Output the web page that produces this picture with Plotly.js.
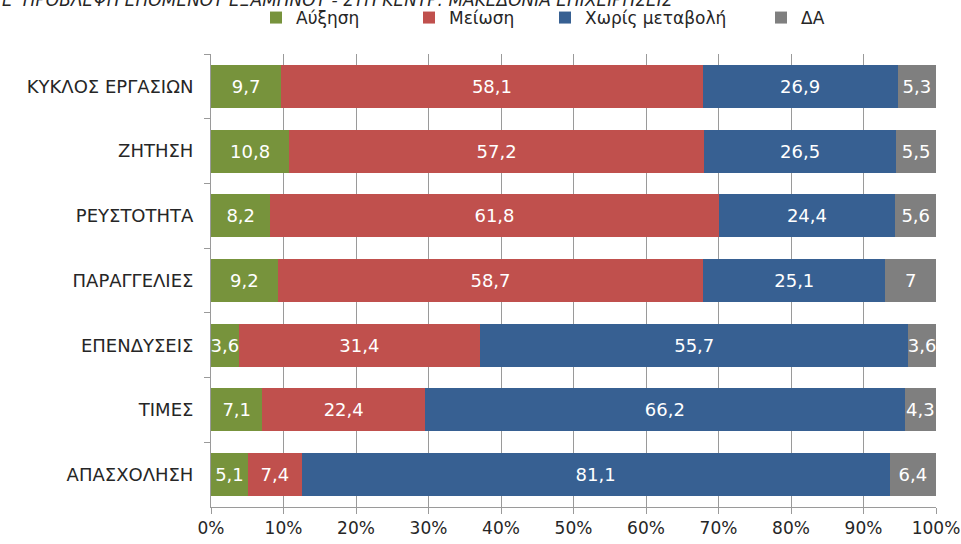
<!DOCTYPE html>
<html>
<head>
<meta charset="utf-8">
<script src="https://cdn.plot.ly/plotly-3.0.1.min.js"></script>
<style>html,body{margin:0;padding:0;background:#fff;}#chart{width:961px;height:544px;}</style>
</head>
<body>
<div id="chart"></div>
<script>
const categories = ["ΚΥΚΛΟΣ ΕΡΓΑΣΙΩΝ", "ΖΗΤΗΣΗ", "ΡΕΥΣΤΟΤΗΤΑ", "ΠΑΡΑΓΓΕΛΙΕΣ", "ΕΠΕΝΔΥΣΕΙΣ", "ΤΙΜΕΣ", "ΑΠΑΣΧΟΛΗΣΗ"];
const increase = [9.7, 10.8, 8.2, 9.2, 3.6, 7.1, 5.1];
const decrease = [58.1, 57.2, 61.8, 58.7, 31.4, 22.4, 7.4];
const noChange = [26.9, 26.5, 24.4, 25.1, 55.7, 66.2, 81.1];
const dontKnow = [5.3, 5.5, 5.6, 7, 3.6, 4.3, 6.4];
const seriesNames = ["Αύξηση", "Μείωση", "Χωρίς μεταβολή", "ΔΑ"];
const xTickLabels = ["0%", "10%", "20%", "30%", "40%", "50%", "60%", "70%", "80%", "90%", "100%"];
const titleText = "Ε' ΠΡΟΒΛΕΨΗ ΕΠΟΜΕΝΟΥ ΕΞΑΜΗΝΟΥ - ΣΤΗ ΚΕΝΤΡ. ΜΑΚΕΔΟΝΙΑ ΕΠΙΧΕΙΡΗΣΕΙΣ";

const colors = ["#77933C", "#C0504D", "#376092", "#7F7F7F"];
const FONT = "DejaVu Sans, sans-serif";
const TXT = '#262626';
const fmt = v => String(v).replace('.', ',');

const allSeries = [increase, decrease, noChange, dontKnow];
const legendIds = ['legend', 'legend2', 'legend3', 'legend4'];
const legendX = [256, 409, 545, 761];

const traces = allSeries.map((vals, i) => ({
  type: 'bar',
  orientation: 'h',
  name: seriesNames[i],
  legend: legendIds[i],
  y: categories,
  x: vals,
  marker: {color: colors[i], line: {width: 0}},
  text: vals.map(fmt),
  textposition: 'inside',
  insidetextanchor: 'middle',
  textangle: 0,
  constraintext: 'none',
  textfont: {color: '#ffffff', size: 18, family: FONT},
  hoverinfo: 'none'
}));

const tickVals = xTickLabels.map((t, i) => i * 10);

const layout = {
  width: 961, height: 544,
  margin: {l: 211, r: 25, t: 54, b: 37},
  paper_bgcolor: '#ffffff', plot_bgcolor: '#ffffff',
  barmode: 'stack',
  barnorm: 'percent',
  bargap: 0.335,
  font: {family: FONT, size: 18, color: TXT},
  showlegend: true,
  xaxis: {
    range: [0, 100],
    tickvals: tickVals,
    ticktext: xTickLabels,
    showgrid: true, gridcolor: '#9a9a9a', gridwidth: 1,
    showline: true, linecolor: '#9a9a9a', linewidth: 1,
    ticks: 'outside', ticklen: 6, tickcolor: '#9a9a9a',
    zeroline: false,
    ticklabeloverflow: 'allow',
    tickfont: {family: FONT, size: 17, color: TXT},
    fixedrange: true
  },
  yaxis: {
    autorange: 'reversed',
    showline: true, linecolor: '#9a9a9a', linewidth: 1,
    ticks: 'outside', ticklen: 6, tickcolor: '#9a9a9a',
    tickson: 'boundaries',
    showgrid: false,
    ticklabelstandoff: 13,
    tickfont: {family: FONT, size: 18, color: TXT},
    fixedrange: true
  },
  annotations: [{
    text: titleText,
    xref: 'paper', yref: 'paper',
    x: -211/725, xanchor: 'left',
    y: 1 + (54 - 12)/453, yanchor: 'bottom',
    showarrow: false,
    font: {family: FONT, size: 17, color: TXT, style: 'italic'}
  }]
};

legendIds.forEach((id, i) => {
  layout[id] = {
    orientation: 'h',
    xref: 'container', yref: 'container',
    x: legendX[i] / 961, xanchor: 'left',
    y: 1 - 18/544, yanchor: 'middle',
    font: {family: FONT, size: 17, color: TXT},
    itemwidth: 30,
    bgcolor: 'rgba(0,0,0,0)'
  };
});

Plotly.newPlot('chart', traces, layout, {displayModeBar: false, staticPlot: true});
</script>
</body>
</html>
